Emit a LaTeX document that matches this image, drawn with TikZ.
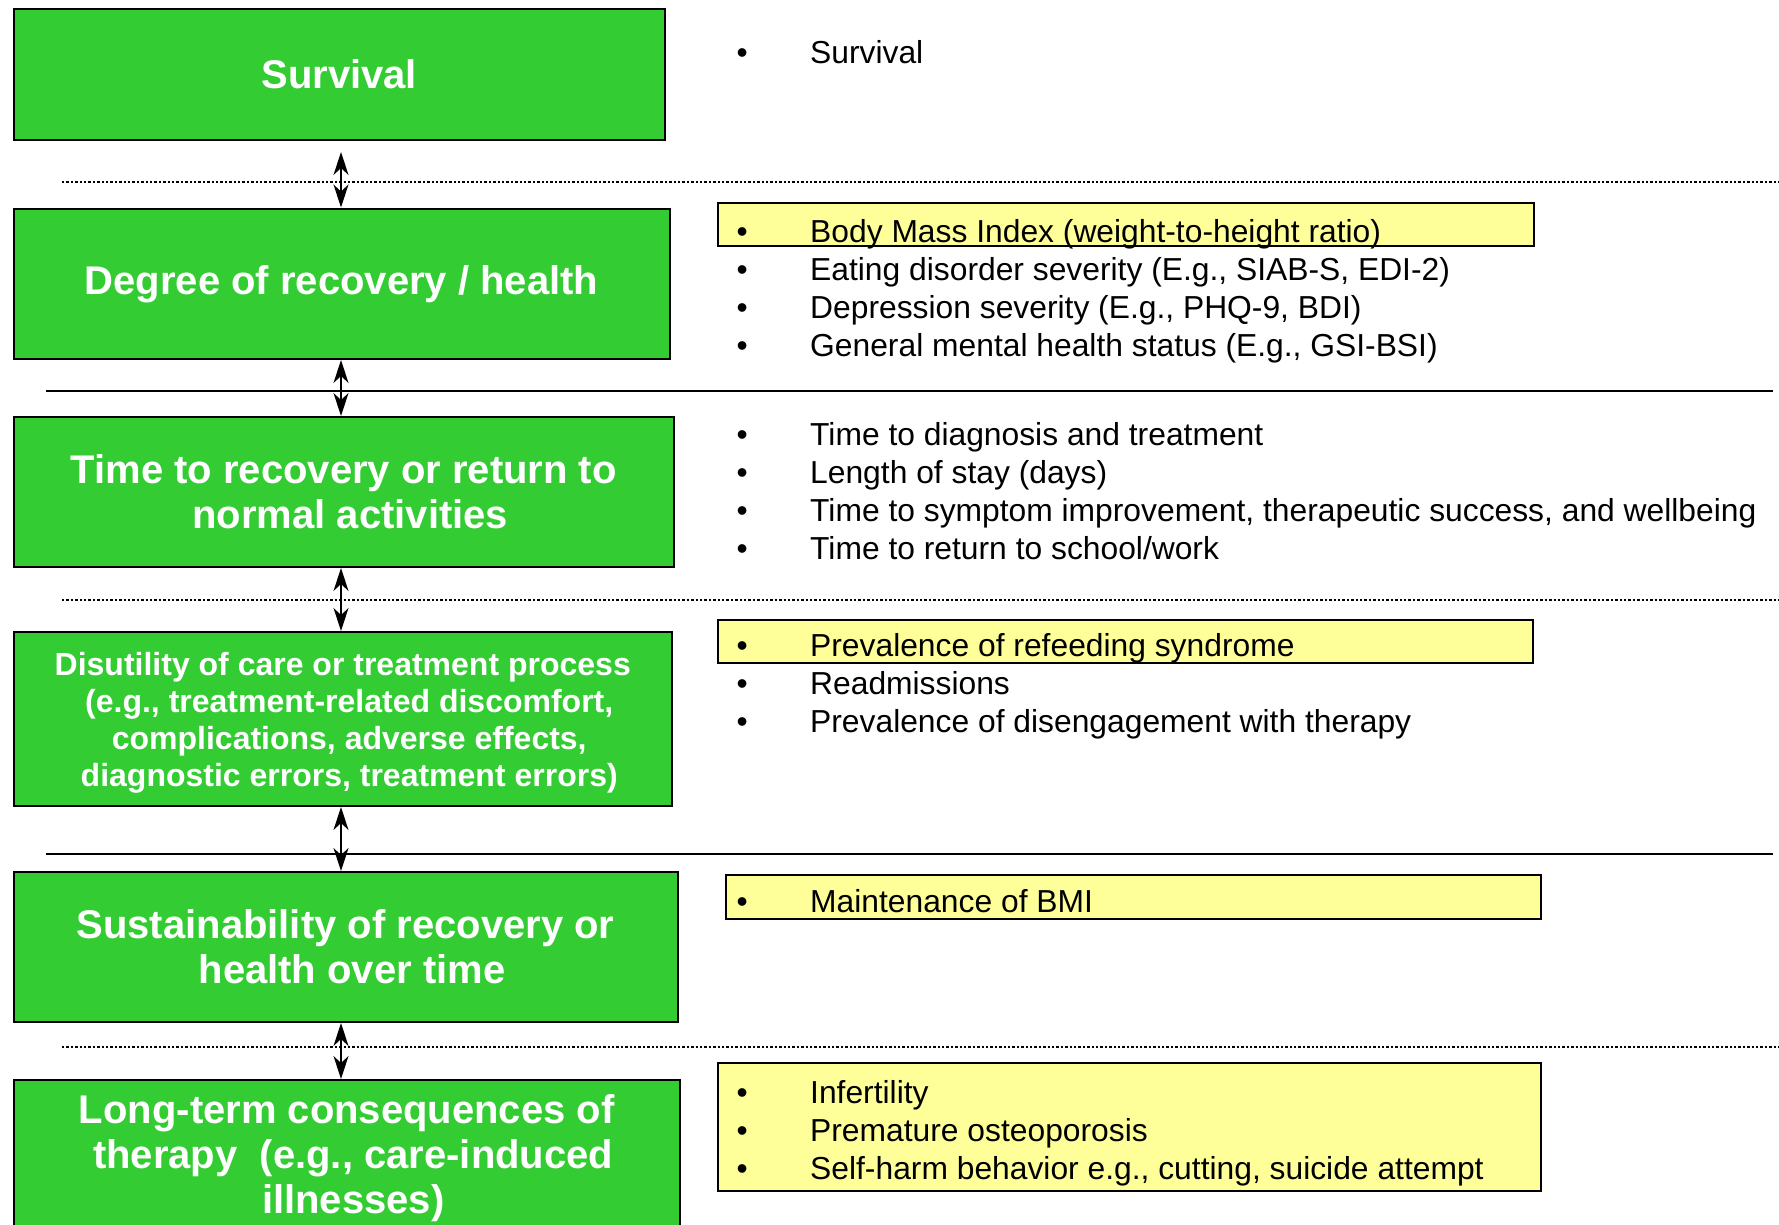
\documentclass[tikz,border=0pt]{standalone}
\usepackage{fontspec}
\setmainfont{Liberation Sans}
\usetikzlibrary{arrows.meta}
\definecolor{boxgreen}{RGB}{51,204,51}
\definecolor{boxyellow}{RGB}{255,255,153}
\newcommand\bulletline[1]{\makebox[73.6pt][l]{•}#1}
\newcommand\contline{\hspace*{13pt}}
\begin{document}
\begin{tikzpicture}[x=1pt,y=-1pt,
  gbox/.style={draw=black, line width=2pt, fill=boxgreen, text=white,
    font=\bfseries\fontsize{40}{45}\selectfont, align=center, inner sep=0pt},
  gsmall/.style={font=\bfseries\fontsize{32}{37}\selectfont},
  ybox/.style={draw=black, line width=2pt, fill=boxyellow, inner sep=0pt},
  item/.style={anchor=base west, inner sep=0pt, font=\fontsize{31.8}{38}\selectfont},
  sepdotted/.style={line width=2pt, dash pattern=on 2.4pt off 2pt},
  sepsolid/.style={line width=2pt},
  link/.style={line width=1.4pt,
    {Stealth[length=23pt,width=15pt,inset=7pt]}-{Stealth[length=23pt,width=15pt,inset=7pt]}}
]
\useasboundingbox (0,0) rectangle (1779,1225);
\fill[white] (0,0) rectangle (1779,1225);

% separators
\draw[sepdotted] (62,182.5) -- (1779,182.5);
\draw[sepsolid] (46,391) -- (1773,391);
\draw[sepdotted] (62,599.5) -- (1779,599.5);
\draw[sepsolid] (46,854.3) -- (1773,854.3);
\draw[sepdotted] (62,1047) -- (1779,1047);

% green boxes
\node[gbox, minimum width=651.5pt, minimum height=131pt] (surv) at (339.25,74.5) {Survival};
\node[gbox, minimum width=656pt, minimum height=150.5pt] (deg) at (341.5,283.75) {Degree of recovery / health};
\node[gbox, minimum width=660.5pt, minimum height=150pt] (time) at (343.75,492) {Time to recovery or return to\\\contline normal activities};
\node[gbox, minimum width=658.5pt, minimum height=174pt] (disu) at (342.75,719) {};
\node[gbox, gsmall, inner sep=0pt, draw=none, fill=none] (disutext) at (342.75,722.5) {Disutility of care or treatment process\\\contline(e.g., treatment-related discomfort,\\\contline complications, adverse effects,\\\contline diagnostic errors, treatment errors)};
\node[gbox, minimum width=664pt, minimum height=150pt] (sust) at (345.5,947) {Sustainability of recovery or\\\contline health over time};
\node[gbox, minimum width=666.5pt, minimum height=150pt] (long) at (346.75,1155) {};
\node[gbox, inner sep=0pt, draw=none, fill=none] (longtext) at (346.75,1158.5) {Long-term consequences of\\\contline therapy\ \ (e.g., care-induced\\\contline illnesses)};

% yellow highlight boxes
\node[ybox, minimum width=816pt, minimum height=43.3pt] (ybmi) at (1126,224.65) {};
\node[ybox, minimum width=815pt, minimum height=43pt] (yref) at (1125.5,641.5) {};
\node[ybox, minimum width=815pt, minimum height=43.5pt] (ymai) at (1133.5,896.75) {};
\node[ybox, minimum width=823pt, minimum height=127.5pt] (ylong) at (1129.5,1126.75) {};

% arrows
\coordinate (ax) at (341,0);
\draw[link, shorten <=11pt] (surv.south -| ax) -- (deg.north -| ax);
\draw[link] (deg.south -| ax) -- (time.north -| ax);
\draw[link] (time.south -| ax) -- (disu.north -| ax);
\draw[link] (disu.south -| ax) -- (sust.north -| ax);
\draw[link] (sust.south -| ax) -- (long.north -| ax);

% lists
\node[item] (l1) at (736.4,64) {\bulletline{Survival}};

\node[item] (l2a) at (736.4,242) {\bulletline{Body Mass Index (weight-to-height ratio)}};
\node[item] (l2b) at (736.4,280) {\bulletline{Eating disorder severity (E.g., SIAB-S, EDI-2)}};
\node[item] (l2c) at (736.4,318) {\bulletline{Depression severity (E.g., PHQ-9, BDI)}};
\node[item] (l2d) at (736.4,356) {\bulletline{General mental health status (E.g., GSI-BSI)}};

\node[item] (l3a) at (736.4,445.5) {\bulletline{Time to diagnosis and treatment}};
\node[item] (l3b) at (736.4,483.5) {\bulletline{Length of stay (days)}};
\node[item] (l3c) at (736.4,521.5) {\bulletline{Time to symptom improvement, therapeutic success, and wellbeing}};
\node[item] (l3d) at (736.4,559.5) {\bulletline{Time to return to school/work}};

\node[item] (l4a) at (736.4,656.5) {\bulletline{Prevalence of refeeding syndrome}};
\node[item] (l4b) at (736.4,694.5) {\bulletline{Readmissions}};
\node[item] (l4c) at (736.4,732.5) {\bulletline{Prevalence of disengagement with therapy}};

\node[item] (l5a) at (736.4,912) {\bulletline{Maintenance of BMI}};

\node[item] (l6a) at (736.4,1103.5) {\bulletline{Infertility}};
\node[item] (l6b) at (736.4,1141.5) {\bulletline{Premature osteoporosis}};
\node[item] (l6c) at (736.4,1179.5) {\bulletline{Self-harm behavior e.g., cutting, suicide attempt}};
\end{tikzpicture}
\end{document}
